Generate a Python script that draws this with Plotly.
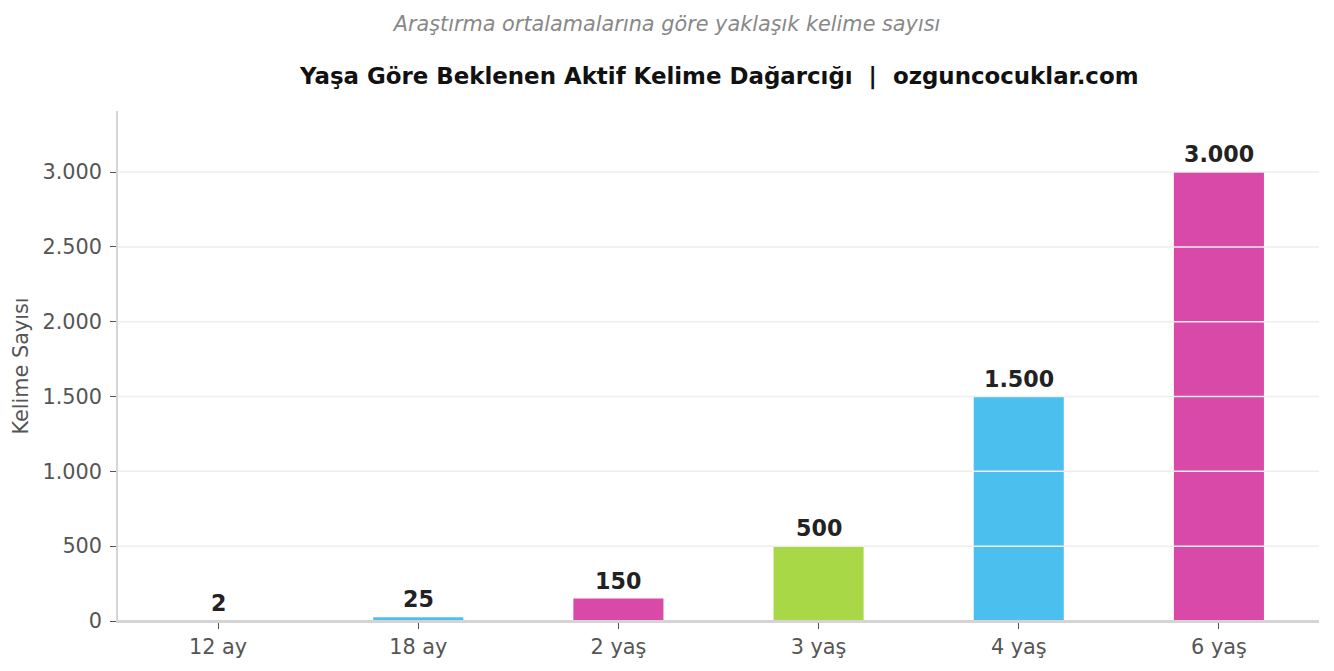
import plotly.graph_objects as go

categories = ["12 ay", "18 ay", "2 yaş", "3 yaş", "4 yaş", "6 yaş"]
values = [2, 25, 150, 500, 1500, 3000]
colors = ["#D94AA8", "#4BC0EE", "#D94AA8", "#A8D846", "#4BC0EE", "#D94AA8"]
y_ticks = [0, 500, 1000, 1500, 2000, 2500, 3000]
y_tick_labels = ["0", "500", "1.000", "1.500", "2.000", "2.500", "3.000"]

FONT = "DejaVu Sans"
TICK = 20.8

fig = go.Figure()
fig.add_trace(go.Bar(
    x=categories, y=values, marker=dict(color=colors, line=dict(width=0)),
    width=0.45, hoverinfo="skip",
))

# gridlines drawn above the bars
for t in y_ticks[1:]:
    fig.add_hline(y=t, line=dict(color="#eeeeee", width=1.5), layer="above")
# bottom spine above the bars
fig.add_hline(y=0, line=dict(color="#d4d4d4", width=2), layer="above")

for c, v in zip(categories, values):
    fig.add_annotation(
        x=c, y=v, text=f"<b>{v:,}</b>".replace(",", "."), showarrow=False,
        yanchor="bottom", yshift=3,
        font=dict(family=FONT, size=22.2, color="#222222"),
    )

fig.add_annotation(
    xref="paper", yref="paper", x=0.5, y=1, yshift=35, yanchor="middle",
    text="<b>Yaşa Göre Beklenen Aktif Kelime Dağarcığı  |  ozguncocuklar.com</b>",
    showarrow=False, font=dict(family=FONT, size=22.9, color="#111111"),
)

fig.update_layout(
    width=1334, height=671,
    margin=dict(l=118, r=15, t=111, b=50),
    paper_bgcolor="white", plot_bgcolor="white",
    font=dict(family=FONT, size=TICK, color="#555555"),
    separators=",.",
    showlegend=False,
    title=dict(
        text="<i>Araştırma ortalamalarına göre yaklaşık kelime sayısı</i>",
        xref="container", x=0.5, xanchor="center",
        yref="container", y=1 - 24 / 671, yanchor="middle",
        font=dict(family=FONT, size=20.8, color="#888888"),
    ),
    xaxis=dict(
        range=[-0.5, 5.5], showgrid=False, zeroline=False, layer="above traces",
        showline=True, linecolor="#d4d4d4", linewidth=1.5,
        ticks="outside", ticklen=6, tickcolor="#555555", tickwidth=1,
        tickfont=dict(family=FONT, size=TICK, color="#555555"),
    ),
    yaxis=dict(
        range=[0, 3408], showgrid=False,
        zeroline=False, layer="above traces",
        tickvals=y_ticks, ticktext=y_tick_labels,
        showline=True, linecolor="#d4d4d4", linewidth=1.5,
        ticks="outside", ticklen=6, tickcolor="#555555", tickwidth=1,
        ticklabelstandoff=4,
        tickfont=dict(family=FONT, size=TICK, color="#555555"),
        title=dict(text="Kelime Sayısı", standoff=8,
                   font=dict(family=FONT, size=TICK, color="#555555")),
    ),
)

fig.write_html("out.html")
